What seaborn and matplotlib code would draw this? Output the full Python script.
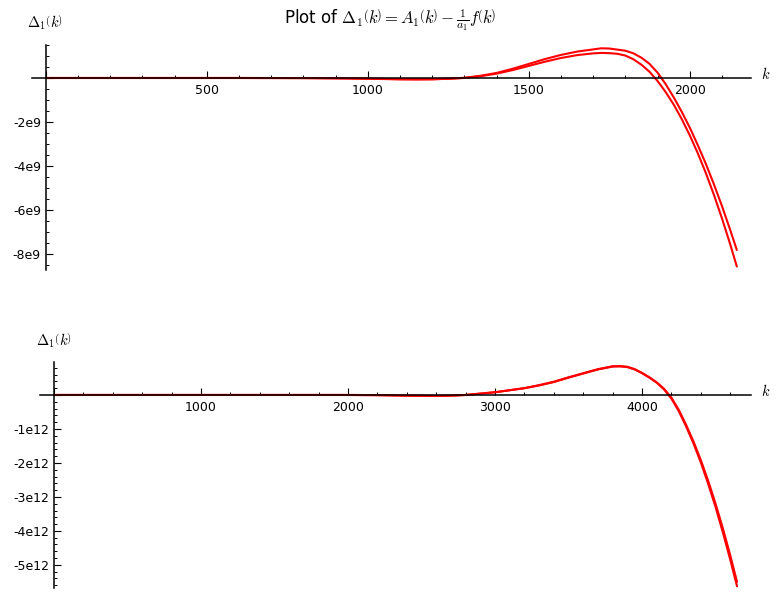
import numpy as np
import pandas as pd
import matplotlib
matplotlib.use('Agg')
import matplotlib.pyplot as plt
from matplotlib.ticker import MultipleLocator, FuncFormatter
import seaborn as sns

# top panel: k up to ~2150, values in units of 1e9
k_top = [0, 300, 600, 800, 900, 1000, 1100, 1150, 1200, 1250, 1300, 1350, 1400,
         1450, 1500, 1550, 1600, 1650, 1700, 1725, 1750, 1775, 1800, 1825, 1850,
         1875, 1900, 1925, 1950, 1975, 2000, 2025, 2050, 2075, 2100, 2125, 2146]
top_upper = [0, 0, 0, -0.005, -0.015, -0.035, -0.06, -0.065, -0.06, -0.035, 0.01,
             0.10, 0.23, 0.42, 0.64, 0.86, 1.05, 1.20, 1.30, 1.35, 1.34, 1.29, 1.24,
             1.12, 0.92, 0.64, 0.24, -0.28, -0.88, -1.54, -2.26, -3.06, -3.91,
             -4.84, -5.83, -6.89, -7.82]
top_lower = [0, 0, 0, -0.005, -0.015, -0.03, -0.055, -0.06, -0.055, -0.035, 0.0,
             0.08, 0.20, 0.36, 0.55, 0.74, 0.91, 1.04, 1.12, 1.14, 1.13, 1.10, 1.02,
             0.85, 0.60, 0.28, -0.14, -0.64, -1.21, -1.87, -2.61, -3.43, -4.33,
             -5.32, -6.39, -7.54, -8.57]

# bottom panel: k up to ~4650, values in units of 1e12
k_bot = [0, 1000, 2000, 2200, 2400, 2600, 2700, 2800, 2900, 3000, 3100, 3200, 3300,
         3400, 3500, 3600, 3700, 3800, 3850, 3900, 3950, 4000, 4050, 4100, 4150,
         4200, 4250, 4300, 4350, 4400, 4450, 4500, 4550, 4600, 4646]
bot_upper = [0, 0, 0, -0.005, -0.02, -0.03, -0.02, 0.0, 0.04, 0.08, 0.14, 0.20, 0.29,
             0.39, 0.52, 0.64, 0.76, 0.845, 0.85, 0.83, 0.76, 0.65, 0.52, 0.37, 0.18,
             -0.08, -0.44, -0.88, -1.37, -1.92, -2.53, -3.20, -3.93, -4.72, -5.50]
bot_lower = [0, 0, 0, -0.005, -0.02, -0.03, -0.02, 0.0, 0.04, 0.08, 0.14, 0.20, 0.28,
             0.38, 0.51, 0.63, 0.75, 0.835, 0.84, 0.82, 0.75, 0.64, 0.51, 0.36, 0.16,
             -0.11, -0.48, -0.93, -1.43, -1.99, -2.62, -3.30, -4.05, -4.85, -5.63]

sns.set_style('white')
plt.rcParams['font.family'] = ['DejaVu Sans']
plt.rcParams['mathtext.fontset'] = 'cm'
plt.rcParams['text.color'] = 'black'


def sci_label(v, pos):
    if v == 0:
        return ''
    e = int(np.floor(np.log10(abs(v))))
    return f"{v / 10**e:g}e{e}"


def int_label(v, pos):
    if v == 0:
        return ''
    return f"{int(round(v))}"


def style_axes(ax, xmaj, xmin, ymaj, ymin):
    for side in ['top', 'right']:
        ax.spines[side].set_visible(False)
    for side in ['left', 'bottom']:
        ax.spines[side].set_position(('data', 0))
        ax.spines[side].set_color('black')
        ax.spines[side].set_linewidth(1.1)
        ax.spines[side].set_zorder(5)
    ax.xaxis.set_major_locator(MultipleLocator(xmaj))
    ax.xaxis.set_minor_locator(MultipleLocator(xmin))
    ax.yaxis.set_major_locator(MultipleLocator(ymaj))
    ax.yaxis.set_minor_locator(MultipleLocator(ymin))
    ax.xaxis.set_major_formatter(FuncFormatter(int_label))
    ax.yaxis.set_major_formatter(FuncFormatter(sci_label))
    ax.tick_params(which='both', bottom=True, left=True, top=False, right=False)
    ax.tick_params(which='major', direction='in', length=4.7, width=0.8,
                   labelsize=9, pad=4.5, color='black', labelcolor='black')
    ax.tick_params(which='minor', direction='in', length=2.4, width=0.7,
                   color='black')
    ax.tick_params(axis='y', pad=3.5)
    ax.set_xlabel('')
    ax.set_ylabel('')
    ax.grid(False)


W, H = 781, 600
fig = plt.figure(figsize=(W / 100, H / 100), dpi=100)

ax1 = fig.add_axes([32 / W, 1 - 270 / H, 719 / W, 225 / H])
ax1.set_facecolor('none')
sns.lineplot(x=k_top, y=np.array(top_upper) * 1e9, ax=ax1, color='red', linewidth=1.5)
sns.lineplot(x=k_top, y=np.array(top_lower) * 1e9, ax=ax1, color='red', linewidth=1.5)
ax1.set_xlim(-43, 2190)
ax1.set_ylim(-8.73e9, 1.5e9)
style_axes(ax1, 500, 100, 2e9, 0.5e9)

ax2 = fig.add_axes([40 / W, 1 - 588 / H, 711 / W, 226 / H])
ax2.set_facecolor('none')
sns.lineplot(x=k_bot, y=np.array(bot_upper) * 1e12, ax=ax2, color='red', linewidth=1.5)
sns.lineplot(x=k_bot, y=np.array(bot_lower) * 1e12, ax=ax2, color='red', linewidth=1.5)
ax2.set_xlim(-95, 4741)
ax2.set_ylim(-5.68e12, 0.97e12)
style_axes(ax2, 1000, 200, 1e12, 0.2e12)

fig.text(390 / W, 1 - 20 / H,
         r'Plot of $\Delta_{1}\left(k\right)=A_{1}\left(k\right)-\frac{1}{a_{1}}f\left(k\right)$',
         ha='center', va='center', fontsize=12)
fig.text(45 / W, 1 - 23 / H, r'$\Delta_{1}\left(k\right)$', ha='center', va='center', fontsize=10.5)
fig.text(54 / W, 1 - 341 / H, r'$\Delta_{1}\left(k\right)$', ha='center', va='center', fontsize=10.5)
fig.text(766 / W, 1 - 74 / H, r'$k$', ha='center', va='center', fontsize=10.5)
fig.text(766 / W, 1 - 391 / H, r'$k$', ha='center', va='center', fontsize=10.5)

fig.savefig('out.png', dpi=100)
